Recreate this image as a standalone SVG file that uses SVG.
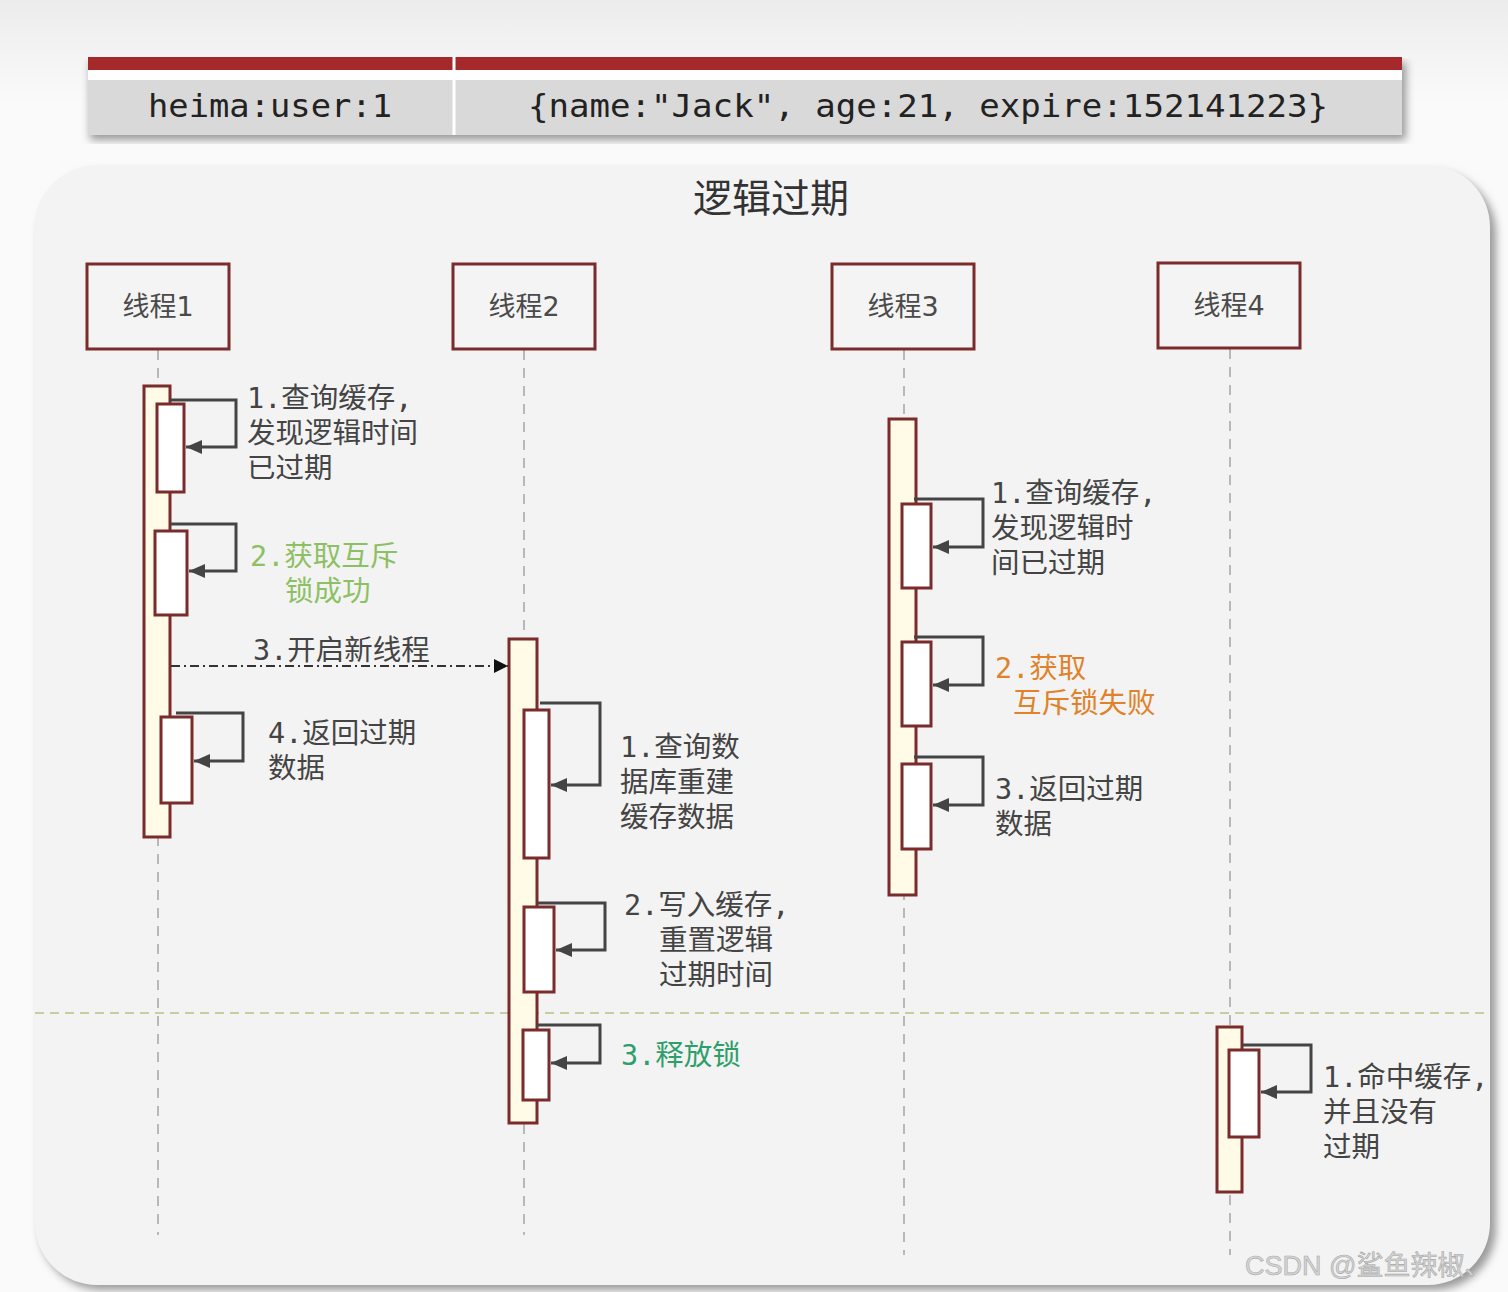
<svg xmlns="http://www.w3.org/2000/svg" width="1508" height="1292" viewBox="0 0 1508 1292">
<defs>
<style>
.t{font-family:"DejaVu Sans Mono","Noto Sans CJK SC",monospace;font-size:28.5px;fill:#444}
.node rect.box{fill:#f4f4f4;stroke:#7a2b2b;stroke-width:3}
.nl{font-family:"DejaVu Sans","Noto Sans CJK SC",sans-serif;font-size:27px;fill:#4a4a4a;text-anchor:middle}
.act{fill:#fffbe6;stroke:#7a2b2b;stroke-width:3}
.inn{fill:#ffffff;stroke:#7a2b2b;stroke-width:3}
.life{stroke:#b8b8b8;stroke-width:2;stroke-dasharray:10 8;fill:none}
.loop{fill:none;stroke:#444;stroke-width:3}
.mono{font-family:"DejaVu Sans Mono","Liberation Mono",monospace;font-size:32px;fill:#222}
</style>
<marker id="ah" viewBox="0 0 16 14" refX="16" refY="7" markerWidth="16" markerHeight="14" markerUnits="userSpaceOnUse" orient="auto">
<path d="M0,0 L16,7 L0,14 Z" fill="#444"/>
</marker>
<marker id="ahb" viewBox="0 0 14 14" refX="14" refY="7" markerWidth="14" markerHeight="14" markerUnits="userSpaceOnUse" orient="auto">
<path d="M0,0 L14,7 L0,14 Z" fill="#111"/>
</marker>
<filter id="sh" x="-5%" y="-5%" width="110%" height="110%">
<feGaussianBlur stdDeviation="4"/>
</filter>
<linearGradient id="bg" x1="0" y1="0" x2="0" y2="1">
<stop offset="0" stop-color="#ececec"/>
<stop offset="0.08" stop-color="#fafafa"/>
<stop offset="1" stop-color="#fafafa"/>
</linearGradient>
</defs>
<rect x="0" y="0" width="1508" height="1292" fill="url(#bg)"/>
<!-- table -->
<g id="table">
<rect x="90" y="62" width="1316" height="78" fill="#999" filter="url(#sh)"/>
<rect x="88" y="57" width="1314" height="13" fill="#a5282b"/>
<rect x="88" y="70" width="1314" height="10" fill="#ffffff"/>
<rect x="88" y="80" width="1314" height="55" fill="#d9d9d9"/>
<line x1="454" y1="57" x2="454" y2="135" stroke="#ffffff" stroke-width="3"/>
<text class="mono" x="270" y="117" text-anchor="middle" textLength="244" lengthAdjust="spacingAndGlyphs">heima:user:1</text>
<text class="mono" x="928" y="117" text-anchor="middle" textLength="800" lengthAdjust="spacingAndGlyphs">{name:"Jack", age:21, expire:152141223}</text>
</g>
<!-- panel -->
<rect x="40" y="172" width="1456" height="1118" rx="62" fill="#9a9a9a" filter="url(#sh)"/>
<rect x="35" y="165" width="1455" height="1120" rx="62" fill="#f3f3f3"/>
<text x="771" y="212" text-anchor="middle" font-family="Noto Sans CJK SC, sans-serif" font-size="39" font-weight="400" fill="#333">逻辑过期</text>
<!-- connectors -->
<g id="connectors">
<line class="life" x1="158" y1="350" x2="158" y2="1235"/>
<line class="life" x1="524" y1="350" x2="524" y2="1235"/>
<line class="life" x1="904" y1="350" x2="904" y2="1255"/>
<line class="life" x1="1230" y1="349" x2="1230" y2="1255"/>
<line x1="35" y1="1013" x2="1490" y2="1013" stroke="#cbcb9c" stroke-width="2" stroke-dasharray="9 6"/>
</g>
<!-- thread 1 -->
<g id="n1" class="node">
<rect class="box" x="87" y="264" width="142" height="85"/>
<text class="nl" x="158" y="316">线程1</text>
</g>
<g id="a1">
<rect class="act" x="144" y="386" width="26" height="451"/>
<rect class="inn" x="157" y="404" width="27" height="88"/>
<rect class="inn" x="155" y="531" width="32" height="84"/>
<rect class="inn" x="161" y="717" width="31" height="86"/>
</g>
<g id="c1">
<polyline class="loop" points="170,400 236,400 236,447 186,447" marker-end="url(#ah)"/>
<polyline class="loop" points="170,524 236,524 236,571 189,571" marker-end="url(#ah)"/>
<polyline class="loop" points="176,713 243,713 243,761 194,761" marker-end="url(#ah)"/>
<line x1="171" y1="666" x2="508" y2="666" stroke="#333" stroke-width="2" stroke-dasharray="9 4 2 4" marker-end="url(#ahb)"/>
</g>
<g id="l1">
<text class="t" x="247" y="408">1.查询缓存,</text>
<text class="t" x="247" y="443">发现逻辑时间</text>
<text class="t" x="247" y="478">已过期</text>
<text class="t" x="250" y="566" style="fill:#8cc063">2.获取互斥</text>
<text class="t" x="285" y="601" style="fill:#8cc063">锁成功</text>
<text class="t" x="253" y="660">3.开启新线程</text>
<text class="t" x="268" y="743">4.返回过期</text>
<text class="t" x="268" y="778">数据</text>
</g>
<!-- thread 2 -->
<g id="n2" class="node">
<rect class="box" x="453" y="264" width="142" height="85"/>
<text class="nl" x="524" y="316">线程2</text>
</g>
<g id="a2">
<rect class="act" x="509" y="639" width="28" height="484"/>
<rect class="inn" x="524" y="710" width="25" height="148"/>
<rect class="inn" x="524" y="907" width="30" height="85"/>
<rect class="inn" x="523" y="1030" width="26" height="70"/>
</g>
<g id="c2">
<polyline class="loop" points="540,703 600,703 600,785 551,785" marker-end="url(#ah)"/>
<polyline class="loop" points="537,903 605,903 605,950 556,950" marker-end="url(#ah)"/>
<polyline class="loop" points="537,1025 600,1025 600,1063 551,1063" marker-end="url(#ah)"/>
</g>
<g id="l2">
<text class="t" x="620" y="757">1.查询数</text>
<text class="t" x="620" y="792">据库重建</text>
<text class="t" x="620" y="827">缓存数据</text>
<text class="t" x="624" y="915">2.写入缓存,</text>
<text class="t" x="659" y="950">重置逻辑</text>
<text class="t" x="659" y="985">过期时间</text>
<text class="t" x="621" y="1065" style="fill:#2e9e6a">3.释放锁</text>
</g>
<!-- thread 3 -->
<g id="n3" class="node">
<rect class="box" x="832" y="264" width="142" height="85"/>
<text class="nl" x="903" y="316">线程3</text>
</g>
<g id="a3">
<rect class="act" x="889" y="419" width="27" height="476"/>
<rect class="inn" x="902" y="504" width="29" height="84"/>
<rect class="inn" x="902" y="642" width="29" height="84"/>
<rect class="inn" x="902" y="764" width="29" height="85"/>
</g>
<g id="c3">
<polyline class="loop" points="914,499 983,499 983,547 933,547" marker-end="url(#ah)"/>
<polyline class="loop" points="914,637 983,637 983,685 933,685" marker-end="url(#ah)"/>
<polyline class="loop" points="914,757 983,757 983,805 933,805" marker-end="url(#ah)"/>
</g>
<g id="l3">
<text class="t" x="991" y="503">1.查询缓存,</text>
<text class="t" x="991" y="538">发现逻辑时</text>
<text class="t" x="991" y="573">间已过期</text>
<text class="t" x="995" y="678" style="fill:#e0822a">2.获取</text>
<text class="t" x="1013" y="713" style="fill:#e0822a">互斥锁失败</text>
<text class="t" x="995" y="799">3.返回过期</text>
<text class="t" x="995" y="834">数据</text>
</g>
<!-- thread 4 -->
<g id="n4" class="node">
<rect class="box" x="1158" y="263" width="142" height="85"/>
<text class="nl" x="1229" y="315">线程4</text>
</g>
<g id="a4">
<rect class="act" x="1217" y="1027" width="25" height="165"/>
<rect class="inn" x="1229" y="1050" width="30" height="87"/>
</g>
<g id="c4">
<polyline class="loop" points="1242,1045 1311,1045 1311,1092 1261,1092" marker-end="url(#ah)"/>
</g>
<g id="l4">
<text class="t" x="1323" y="1087">1.命中缓存,</text>
<text class="t" x="1323" y="1122">并且没有</text>
<text class="t" x="1323" y="1157">过期</text>
</g>
<text x="1245" y="1275" font-family="Liberation Sans, Noto Sans CJK SC, sans-serif" font-size="27" fill="#d6d6d6" stroke="#a8a8a8" stroke-width="0.6">CSDN @鲨鱼辣椒、</text>
</svg>
